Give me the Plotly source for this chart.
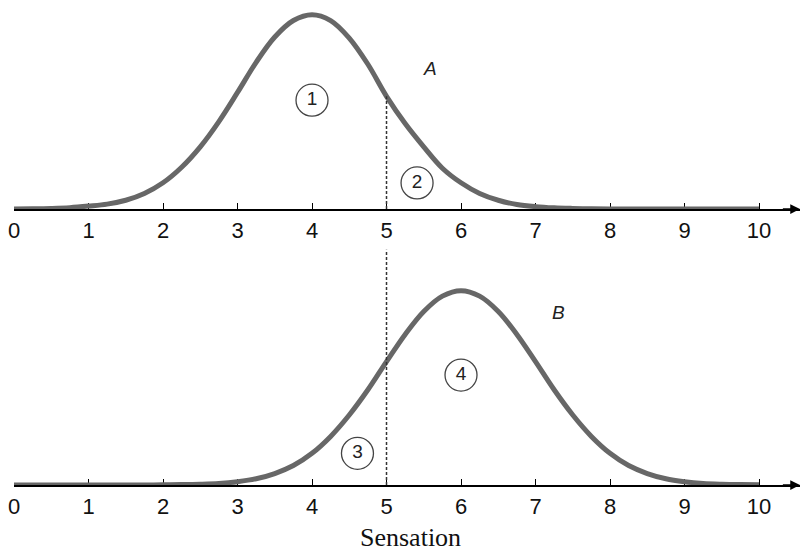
# -- ------------------------------------------------------------------------------------ -- #
# -- grafica: dos distribuciones de sensacion (A y B) con criterio en 5
# -- ------------------------------------------------------------------------------------ -- #

import plotly.graph_objects as go
from plotly.subplots import make_subplots

# -- datos (altura relativa al pico), cada 0.25
x_vals = [i * 0.25 for i in range(41)]
curva_a = [0, 0.001, 0.003, 0.007, 0.015, 0.025, 0.045, 0.08, 0.135, 0.215, 0.32, 0.45, 0.6,
           0.755, 0.885, 0.97, 1.0, 0.97, 0.88, 0.745, 0.58, 0.44, 0.32, 0.21, 0.135, 0.08,
           0.045, 0.023, 0.012, 0.006, 0.003, 0.001, 0, 0, 0, 0, 0, 0, 0, 0, 0]
curva_b = [0, 0, 0, 0, 0, 0, 0, 0, 0.001, 0.002, 0.004, 0.008, 0.017, 0.032, 0.059, 0.1,
           0.163, 0.25, 0.36, 0.49, 0.635, 0.775, 0.893, 0.972, 1.0, 0.972, 0.893, 0.775, 0.635,
           0.49, 0.36, 0.25, 0.163, 0.1, 0.059, 0.032, 0.017, 0.008, 0.004, 0.002, 0.001]
tick_vals = [0, 1, 2, 3, 4, 5, 6, 7, 8, 9, 10]
tick_text = ['0', '1', '2', '3', '4', '5', '6', '7', '8', '9', '10']
criterio = 5
etiquetas_a = ['1', '2']
etiquetas_b = ['3', '4']

color_curva = '#676767'
fuente = 'Liberation Sans, Arial, sans-serif'

# -- ------------------------------------------------------------------ FUNCION: figura -- #
fig = make_subplots(rows=2, cols=1, vertical_spacing=0.15)

fig.add_trace(go.Scatter(x=x_vals, y=curva_a, mode='lines', line=dict(color=color_curva, width=5,
                                                                       shape='spline'),
                         showlegend=False, hoverinfo='skip'), row=1, col=1)
fig.add_trace(go.Scatter(x=x_vals, y=curva_b, mode='lines', line=dict(color=color_curva, width=5,
                                                                       shape='spline'),
                         showlegend=False, hoverinfo='skip'), row=2, col=1)

# -- circulos numerados
circulo = dict(symbol='circle-open', size=32, color='#444', line=dict(color='#444', width=1.3))
fig.add_trace(go.Scatter(x=[4.0, 5.41], y=[0.56, 0.134], mode='markers+text', text=etiquetas_a,
                         textposition='middle center', marker=circulo,
                         textfont=dict(family=fuente, size=19, color='#222'),
                         showlegend=False, hoverinfo='skip', cliponaxis=False), row=1, col=1)
fig.add_trace(go.Scatter(x=[4.61, 6.0], y=[0.163, 0.566], mode='markers+text', text=etiquetas_b,
                         textposition='middle center', marker=circulo,
                         textfont=dict(family=fuente, size=19, color='#222'),
                         showlegend=False, hoverinfo='skip', cliponaxis=False), row=2, col=1)

eje_x = dict(range=[0, 10.55], showline=True, linecolor='black', linewidth=1.5,
             ticks='inside', ticklen=6, tickwidth=1, tickcolor='black',
             tickvals=tick_vals, ticktext=tick_text, ticklabelstandoff=1,
             tickfont=dict(family=fuente, size=22, color='#111'),
             showgrid=False, zeroline=False, layer='below traces')
eje_y = dict(range=[0, 1.05], visible=False, showgrid=False, zeroline=False)

fig.update_layout(
    width=801, height=553,
    margin=dict(l=14, r=1, t=5, b=68),
    plot_bgcolor='white', paper_bgcolor='white',
    xaxis=dict(eje_x, domain=[0, 1]),
    xaxis2=dict(eje_x, domain=[0, 1]),
    yaxis=dict(eje_y, domain=[0.575, 1]),
    yaxis2=dict(eje_y, domain=[0, 0.425]),
)

# -- linea punteada del criterio
y_crit = curva_a[x_vals.index(criterio)]
fig.add_shape(type='line', xref='x', yref='y', x0=criterio, x1=criterio, y0=0, y1=y_crit,
              line=dict(color='#333', width=1.5, dash='3px,2px'))
fig.add_shape(type='line', xref='x2', yref='paper', x0=criterio, x1=criterio, y0=0, y1=0.49,
              line=dict(color='#333', width=1.5, dash='3px,2px'))

# -- flechas de los ejes
for xr, yr in [('x', 'y'), ('x2', 'y2')]:
    fig.add_annotation(x=10.55, y=0, ax=10.3, ay=0, xref=xr, yref=yr, axref=xr, ayref=yr,
                       text='', showarrow=True, arrowhead=2, arrowsize=1.3, arrowwidth=1.5,
                       arrowcolor='black')

# -- letras y titulo
fig.add_annotation(x=5.59, y=0.725, xref='x', yref='y', text='<i>A</i>', showarrow=False,
                   font=dict(family=fuente, size=19, color='#222'))
fig.add_annotation(x=7.31, y=0.89, xref='x2', yref='y2', text='<i>B</i>', showarrow=False,
                   font=dict(family=fuente, size=19, color='#222'))
fig.add_annotation(x=0.505, y=-0.11, xref='paper', yref='paper', text='Sensation',
                   showarrow=False, yanchor='middle',
                   font=dict(family='Liberation Serif, serif', size=26, color='#111'))

# -- sin margen del body para que la figura empiece en la esquina
fig.write_html("out.html", config={'displayModeBar': False},
               post_script="document.body.style.margin='0';")
